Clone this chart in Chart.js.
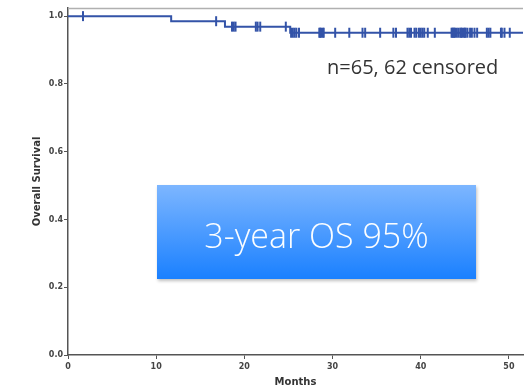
<!DOCTYPE html>
<html>
<head>
<meta charset="utf-8">
<script src="https://cdn.jsdelivr.net/npm/chart.js@4/dist/chart.umd.min.js"></script>
<style>
  html, body { margin: 0; padding: 0; background: #fff; }
  #wrap { position: relative; width: 530px; height: 392px; }
  #note {
    position: absolute; left: 327px; top: 53px;
    font-family: "Open Sans", sans-serif; font-size: 20px; color: #333;
  }
  #box {
    position: absolute; left: 157px; top: 185px; width: 319px; height: 94px;
    background: linear-gradient(#7db6ff, #1a80ff);
    box-shadow: 1px 2px 3px rgba(0,0,0,0.25);
    color: #fbfdff; font-family: "Open Sans", sans-serif; font-weight: 300;
    font-size: 34px; line-height: 100px; text-align: center;
  }
</style>
</head>
<body>
<div id="wrap">
  <canvas id="chart1" width="530" height="392"></canvas>
  <div id="note">n=65, 62 censored</div>
  <div id="box">3-year OS 95%</div>
</div>
<script>
// Kaplan-Meier step curve (months, survival)
const stepMonths = [0, 11.7, 17.8, 25.2, 51.6];
const stepSurvival = [1.0, 0.985, 0.969, 0.951, 0.951];

// censored observations (months)
const censorMonths = [
  1.7, 16.8, 18.6, 18.8, 19.0, 21.3, 21.5, 21.8, 24.7,
  25.3, 25.5, 25.7, 25.9, 26.2, 28.5, 28.6, 28.7, 28.9, 30.3, 31.9,
  33.4, 33.7, 35.4, 36.9, 37.2, 38.5, 38.7, 38.9, 39.3, 39.5, 39.8, 40.0,
  40.4, 40.8, 41.6, 43.5, 43.6, 43.8, 43.9, 44.1, 44.3, 44.5, 44.7, 44.9,
  45.1, 45.3, 45.6, 45.8, 46.1, 46.4, 47.5, 47.7, 47.9, 49.1, 49.2, 49.5,
  50.1, 29.0, 40.2, 45.0, 43.7, 44.6
];

const xTicks = [0, 10, 20, 30, 40, 50];
const yTicks = [0, 0.2, 0.4, 0.6, 0.8, 1.0];

function survivalAt(t) {
  let s = stepSurvival[0];
  stepMonths.forEach((m, i) => { if (m <= t) s = stepSurvival[i]; });
  return s;
}

const blue = '#3353a8';
const axisFont = { family: 'DejaVu Sans', size: 8, weight: 'bold' };
const titleFont = { family: 'DejaVu Sans', size: 10, weight: 'bold' };

const topBorder = {
  id: 'topBorder',
  afterDraw(chart) {
    const { ctx, chartArea } = chart;
    ctx.save();
    ctx.strokeStyle = '#b0b0b0';
    ctx.lineWidth = 1.5;
    ctx.beginPath();
    ctx.moveTo(chartArea.left, chartArea.top + 0.5);
    ctx.lineTo(chartArea.right, chartArea.top + 0.5);
    ctx.stroke();
    ctx.restore();
  }
};

new Chart(document.getElementById('chart1').getContext('2d'), {
  type: 'line',
  data: {
    datasets: [
      {
        label: 'Survival',
        data: stepMonths.map((m, i) => ({ x: m, y: stepSurvival[i] })),
        stepped: 'before',
        borderColor: blue,
        borderWidth: 2,
        pointRadius: 0,
        fill: false
      },
      {
        label: 'Censored',
        type: 'scatter',
        data: censorMonths.map(m => ({ x: m, y: survivalAt(m) })),
        pointStyle: 'line',
        rotation: 90,
        pointRadius: 5,
        borderColor: blue,
        borderWidth: 2
      }
    ]
  },
  options: {
    responsive: false,
    animation: false,
    layout: { padding: { left: 31, top: 8, right: 4, bottom: 4 } },
    plugins: { legend: { display: false }, tooltip: { enabled: false } },
    scales: {
      x: {
        type: 'linear',
        min: 0,
        max: 51.6,
        afterBuildTicks: axis => { axis.ticks = xTicks.map(v => ({ value: v })); },
        afterFit: scale => { scale.height = 33; },
        ticks: { font: axisFont, color: '#444', padding: 3, maxRotation: 0 },
        grid: { drawOnChartArea: false, tickLength: 4, color: '#555' },
        border: { color: '#555', width: 1.5 },
        title: { display: true, text: 'Months', font: titleFont, color: '#333', padding: 0 }
      },
      y: {
        min: 0,
        max: 1.024,
        afterBuildTicks: axis => { axis.ticks = yTicks.map(v => ({ value: v })); },
        afterFit: scale => { scale.width = 37; },
        ticks: { font: axisFont, color: '#444', padding: 1, callback: v => v.toFixed(1) },
        grid: { drawOnChartArea: false, tickLength: 4, color: '#555' },
        border: { color: '#555', width: 1.5 },
        title: { display: true, text: 'Overall Survival', font: titleFont, color: '#333', padding: 0 }
      }
    }
  },
  plugins: [topBorder]
});
</script>
</body>
</html>
